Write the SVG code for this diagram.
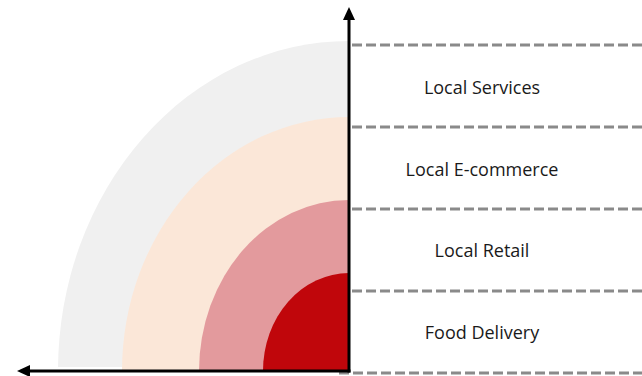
<svg xmlns="http://www.w3.org/2000/svg" width="642" height="376" viewBox="0 0 642 376">
  <style>
    .guide { stroke: #8a8a8a; stroke-width: 3; stroke-dasharray: 10 4; fill: none; }
    .axis { stroke: #000; stroke-width: 3; fill: none; }
    .label { font-family: "Open Sans", "Liberation Sans", sans-serif; font-size: 18px; fill: #1a1a1a; text-anchor: middle; dominant-baseline: central; }
  </style>
  <defs>
    <clipPath id="outerClip">
      <rect x="0" y="0" width="642" height="367"/>
    </clipPath>
  </defs>

  <!-- concentric quarter bands, all sharing the origin at the axis corner -->
  <g id="band-services">
    <path d="M349,371 L58,371 A291,330 0 0 1 349,41 Z" fill="#f0f0f0" clip-path="url(#outerClip)"/>
  </g>
  <g id="band-ecommerce">
    <path d="M349,371 L122,371 A227,254 0 0 1 349,117 Z" fill="#fbe7d8"/>
  </g>
  <g id="band-retail">
    <path d="M349,371 L199,371 A150,171 0 0 1 349,200 Z" fill="#e39a9d"/>
  </g>
  <g id="band-delivery">
    <path d="M349,371 L263,371 A86,98 0 0 1 349,273 Z" fill="#c0060b"/>
  </g>

  <!-- band separators and axes -->
  <g id="connectors">
    <line class="guide" x1="352" y1="45" x2="642" y2="45"/>
    <line class="guide" x1="352" y1="127" x2="642" y2="127"/>
    <line class="guide" x1="352" y1="209" x2="642" y2="209"/>
    <line class="guide" x1="352" y1="291" x2="642" y2="291"/>
    <line class="guide" x1="339" y1="373" x2="642" y2="373"/>

    <line class="axis" x1="350.5" y1="371" x2="28" y2="371"/>
    <polygon points="17,371 30,365 30,377" fill="#000"/>
    <line class="axis" x1="349" y1="372.5" x2="349" y2="18"/>
    <polygon points="349,7 343,20 355,20" fill="#000"/>
  </g>

  <g id="label-services"><text class="label" x="482" y="87">Local Services</text></g>
  <g id="label-ecommerce"><text class="label" x="482" y="169">Local E-commerce</text></g>
  <g id="label-retail"><text class="label" x="482" y="250">Local Retail</text></g>
  <g id="label-delivery"><text class="label" x="482" y="332">Food Delivery</text></g>
</svg>
